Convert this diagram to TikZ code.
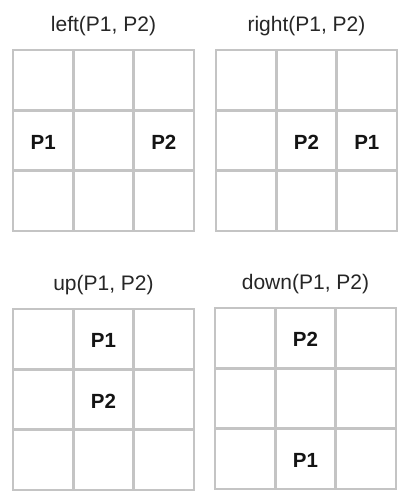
\documentclass[tikz,border=0pt]{standalone}
\usepackage{fontspec}
\setmainfont{Liberation Sans}
\usepackage{tikz}
\definecolor{gridgray}{RGB}{196,196,196}
\tikzset{
  cell/.style={draw=gridgray, line width=2.5pt, minimum size=60.33pt, inner sep=0pt},
  piece/.style={font=\fontsize{20.5}{21}\selectfont\bfseries, text=black!92},
  boardtitle/.style={anchor=base, font=\fontsize{21}{21}\selectfont, text=black!85},
}
% #1 name, #2 x, #3 y (top left corner), #4 title
\newcommand{\board}[4]{
  \foreach \r in {1,2,3}{
    \foreach \c in {1,2,3}{
      \node[cell] (#1-\r-\c) at ({#2+(\c-0.5)*60.33},{#3+(\r-0.5)*60.33}) {};
    }
  }
  \node[boardtitle] (#1-title) at ({#2+90.5},{#3-18.5}) {#4};
}

\begin{document}
\begin{tikzpicture}[x=1pt,y=-1pt]
\useasboundingbox (0,0) rectangle (409,502);
\board{L}{13}{50}{left(P1, P2)}
\board{R}{216}{50}{right(P1, P2)}
\board{U}{13}{309}{up(P1, P2)}
\board{D}{215}{308}{down(P1, P2)}
% pieces
\node[piece] (L-p1) at ([yshift=-1.5pt]L-2-1) {P1};
\node[piece] (L-p2) at ([yshift=-1.5pt]L-2-3) {P2};
\node[piece] (R-p2) at ([yshift=-1.5pt]R-2-2) {P2};
\node[piece] (R-p1) at ([yshift=-1.5pt]R-2-3) {P1};
\node[piece] (U-p1) at ([yshift=-1.5pt]U-1-2) {P1};
\node[piece] (U-p2) at ([yshift=-1.5pt]U-2-2) {P2};
\node[piece] (D-p2) at ([yshift=-1.5pt]D-1-2) {P2};
\node[piece] (D-p1) at ([yshift=-1.5pt]D-3-2) {P1};
\end{tikzpicture}
\end{document}
